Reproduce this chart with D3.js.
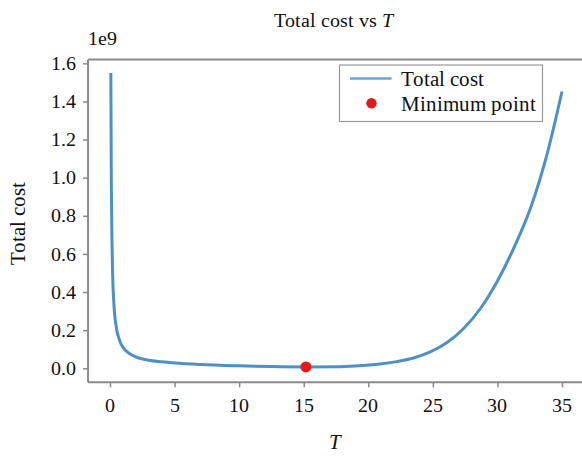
<!DOCTYPE html>
<html>
<head>
<meta charset="utf-8">
<script src="https://cdn.jsdelivr.net/npm/d3@7"></script>
<style>
  @font-face {
    font-family: "ChartSerif";
    src: local("Liberation Serif"), local("LiberationSerif"), local("Liberation Serif Regular"), local("LiberationSerif-Regular");
    font-style: normal;
    font-weight: 400;
  }
  @font-face {
    font-family: "ChartSerif";
    src: local("Liberation Serif Italic"), local("LiberationSerif-Italic");
    font-style: italic;
    font-weight: 400;
  }
  html, body { margin: 0; padding: 0; background: #fff; }
  svg { display: block; }
  svg text { font-family: "ChartSerif", "Liberation Serif", "Tinos", "Times New Roman", serif; }
</style>
</head>
<body>
<svg id="chart" width="582" height="459"></svg>
<script>
// ---- data (cost values in units of 1e9) ----
const tValues = [0.065, 0.1, 0.15, 0.2, 0.3, 0.5, 0.75, 1, 1.5, 2, 3, 4, 5, 7, 10, 12.5, 15.2, 17.5, 19, 20.9, 22.2, 23.5, 24.8, 26.1, 27.4, 28.7, 30, 31.3, 32.6, 33.85, 35];
const costValues = [1.549, 1.0, 0.68, 0.5, 0.34, 0.21, 0.145, 0.11, 0.078, 0.06, 0.042, 0.034, 0.028, 0.02, 0.013, 0.009, 0.007, 0.008, 0.012, 0.022, 0.035, 0.054, 0.086, 0.135, 0.21, 0.315, 0.458, 0.636, 0.848, 1.125, 1.452];
const minPoint = [15.17, 0.007];
const xTicks = [0, 5, 10, 15, 20, 25, 30, 35];
const yTicks = [0.0, 0.2, 0.4, 0.6, 0.8, 1.0, 1.2, 1.4, 1.6];
const seriesLabels = ["Total cost", "Minimum point"];

const FONT = '"ChartSerif", "Liberation Serif", "Tinos", "Times New Roman", serif';
const svg = d3.select("#chart");
const pxPerUnit = (562 - 110) / 35;
const x = d3.scaleLinear().domain([-1.7, 36.75]).range([110 - 1.7 * pxPerUnit, 110 + 36.75 * pxPerUnit]);
const y = d3.scaleLinear().domain([-0.0735, 1.620]).range([382.3, 59.5]);

const [x0, x1] = x.range();
const [yb, yt] = y.range();
const spineColor = "#8a8a8a";
const lineColor = "#2f7dbb";
const dotColor = "#e31a1c";

function txt(parent, tx, ty, size, anchor, rot) {
  return parent.append("text")
    .attr("transform", `translate(${tx},${ty})${rot ? ` rotate(${rot})` : ""}`)
    .attr("x", 0).attr("y", 0)
    .attr("text-anchor", anchor || "start")
    .attr("font-family", FONT)
    .attr("font-size", size)
    .attr("fill", "#111");
}

// data line
const data = tValues.map((t, i) => ({ t, v: costValues[i] }));
const line = d3.line().x(d => x(d.t)).y(d => y(d.v)).curve(d3.curveMonotoneX);
svg.append("path").datum(data)
  .attr("d", line)
  .attr("fill", "none")
  .attr("stroke", lineColor)
  .attr("stroke-opacity", 0.85)
  .attr("stroke-width", 3)
  .attr("stroke-linejoin", "round");

// minimum point
svg.append("circle")
  .attr("cx", x(minPoint[0])).attr("cy", y(minPoint[1])).attr("r", 5.5)
  .attr("fill", dotColor);

// spines
[[x0, yt, x0, yb], [x0, yb, x1, yb], [x0, yt, x1, yt], [x1, yt, x1, yb]].forEach(([a, b, c, d]) => {
  svg.append("line").attr("x1", a).attr("y1", b).attr("x2", c).attr("y2", d)
    .attr("stroke", spineColor).attr("stroke-width", 2);
});

// axes (tick marks from d3 axes, labels drawn with the same scales)
const gx = svg.append("g").attr("transform", `translate(0,${yb})`)
  .call(d3.axisBottom(x).tickValues(xTicks).tickSize(5).tickFormat(""));
gx.select(".domain").remove();
gx.selectAll(".tick line").attr("stroke", spineColor).attr("stroke-width", 1.5);
xTicks.forEach(t => txt(svg, x(t), 411.5, 20, "middle").text(d3.format("d")(t)));

const gy = svg.append("g").attr("transform", `translate(${x0},0)`)
  .call(d3.axisLeft(y).tickValues(yTicks).tickSize(5).tickFormat(""));
gy.select(".domain").remove();
gy.selectAll(".tick line").attr("stroke", spineColor).attr("stroke-width", 1.5);
yTicks.forEach(v => txt(svg, 75.5, y(v) + 6.6, 20, "end").text(d3.format(".1f")(v)));

// offset text
txt(svg, x0, 45, 20).text("1e9");

// title
const title = txt(svg, 333, 27, 20, "middle");
title.append("tspan").text("Total cost vs ");
title.append("tspan").attr("font-style", "italic").text("T");

// axis labels
txt(svg, 335, 448.5, 21, "middle").attr("font-style", "italic").text("T");
txt(svg, 25, 223, 21, "middle", -90).text("Total cost");

// legend
const lg = svg.append("g");
lg.append("rect").attr("x", 339.5).attr("y", 65).attr("width", 203).attr("height", 56.5)
  .attr("fill", "#fff").attr("stroke", "#999").attr("stroke-width", 1.2);
lg.append("line").attr("x1", 350).attr("x2", 391.5).attr("y1", 78.5).attr("y2", 78.5)
  .attr("stroke", lineColor).attr("stroke-opacity", 0.7).attr("stroke-width", 2.5);
lg.append("circle").attr("cx", 371.5).attr("cy", 103.3).attr("r", 5.2).attr("fill", dotColor);
txt(lg, 400.5, 85.5, 21).text(seriesLabels[0]);
txt(lg, 400.5, 110.5, 21).text(seriesLabels[1]);
</script>
</body>
</html>
